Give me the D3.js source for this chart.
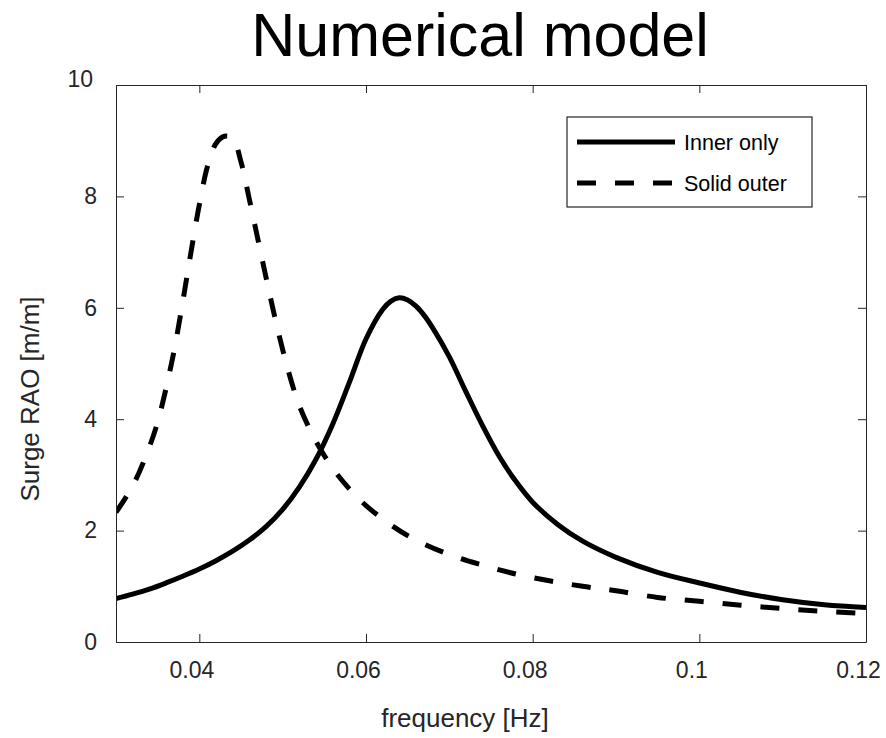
<!DOCTYPE html>
<html>
<head>
<meta charset="utf-8">
<script src="https://cdn.jsdelivr.net/npm/d3@7"></script>
<style>
  body { margin: 0; background: #fff; }
  svg { display: block; font-family: "Liberation Sans", Arial, Helvetica, sans-serif; }
</style>
</head>
<body>
<svg></svg>
<script>
// frequency [Hz] and surge RAO [m/m]
const freqInner = [0.030, 0.032, 0.034, 0.036, 0.038, 0.040, 0.042, 0.044, 0.046, 0.048, 0.050, 0.052, 0.054,
                   0.056, 0.058, 0.060, 0.062, 0.063, 0.064, 0.065, 0.066, 0.067, 0.068, 0.070, 0.072, 0.074,
                   0.076, 0.078, 0.080, 0.083, 0.086, 0.090, 0.095, 0.100, 0.105, 0.110, 0.115, 0.120];
const raoInner = [0.78, 0.86, 0.95, 1.06, 1.18, 1.31, 1.46, 1.63, 1.83, 2.07, 2.38, 2.78, 3.28,
                  3.91, 4.66, 5.44, 5.97, 6.12, 6.18, 6.14, 6.03, 5.86, 5.64, 5.12, 4.49, 3.88,
                  3.33, 2.88, 2.51, 2.11, 1.81, 1.52, 1.25, 1.06, 0.89, 0.76, 0.67, 0.62];

const freqOuter = [0.030, 0.032, 0.034, 0.035, 0.036, 0.037, 0.038, 0.039, 0.040, 0.041, 0.042, 0.043, 0.044,
                   0.045, 0.046, 0.047, 0.048, 0.049, 0.050, 0.051, 0.052, 0.054, 0.056, 0.058, 0.060, 0.063,
                   0.066, 0.070, 0.074, 0.078, 0.082, 0.086, 0.090, 0.095, 0.100, 0.105, 0.110, 0.115, 0.120];
const raoOuter = [2.33, 2.80, 3.50, 3.95, 4.55, 5.25, 6.10, 7.00, 7.85, 8.55, 8.95, 9.08, 9.05,
                  8.62, 7.95, 7.25, 6.55, 5.87, 5.25, 4.70, 4.24, 3.60, 3.12, 2.75, 2.45, 2.10,
                  1.83, 1.57, 1.38, 1.22, 1.10, 1.00, 0.92, 0.80, 0.73, 0.66, 0.60, 0.55, 0.51];

const xTicks = [0.04, 0.06, 0.08, 0.1, 0.12];
const yTicks = [0, 2, 4, 6, 8, 10];
const seriesNames = ["Inner only", "Solid outer"];

const width = 886;
const height = 738;
const plotLeft = 116, plotRight = 866, plotTop = 85, plotBottom = 642;
const axisColor = "#262626";

const svg = d3.select("svg").attr("width", width).attr("height", height);

const xScale = d3.scaleLinear().domain([0.03, 0.12]).range([plotLeft, plotRight]);
const yScale = d3.scaleLinear().domain([0, 10]).range([plotBottom, plotTop]);

const series = [
  { name: seriesNames[0], points: freqInner.map((f, i) => [f, raoInner[i]]), dash: null },
  { name: seriesNames[1], points: freqOuter.map((f, i) => [f, raoOuter[i]]), dash: "19,19" }
];

svg.append("clipPath").attr("id", "plot-clip")
   .append("rect")
   .attr("x", plotLeft).attr("y", plotTop)
   .attr("width", plotRight - plotLeft).attr("height", plotBottom - plotTop);

const line = d3.line()
               .x(d => xScale(d[0]))
               .y(d => yScale(d[1]))
               .curve(d3.curveCatmullRom.alpha(0.5));

svg.append("g").attr("clip-path", "url(#plot-clip)")
   .selectAll("path")
   .data(series)
   .enter()
   .append("path")
   .attr("d", d => line(d.points))
   .attr("fill", "none")
   .attr("stroke", "#000")
   .attr("stroke-width", 5)
   .attr("stroke-dasharray", d => d.dash);

// axes, MATLAB style: box on, ticks pointing inward on all four sides
const styleAxis = (g) => {
  g.select(".domain").attr("stroke", axisColor).attr("stroke-width", 1);
  g.selectAll(".tick line").attr("stroke", axisColor).attr("stroke-width", 1);
  g.selectAll(".tick text").attr("fill", axisColor).style("font-size", "23px");
};

const xAxis = d3.axisBottom(xScale).tickValues(xTicks).tickSize(-8).tickPadding(20).tickSizeOuter(0)
                .tickFormat(d3.format("~g"));
const yAxis = d3.axisLeft(yScale).tickValues(yTicks).tickSize(-8).tickPadding(19).tickSizeOuter(0)
                .tickFormat(d3.format("d"));

svg.append("g")
   .attr("transform", "translate(0," + plotBottom + ")")
   .call(xAxis)
   .call(styleAxis)
   .selectAll(".tick text")
   .attr("dx", -8);

svg.append("g")
   .attr("transform", "translate(" + plotLeft + ",0)")
   .call(yAxis)
   .call(styleAxis)
   .selectAll(".tick text")
   .filter(d => d === 10)
   .attr("dx", -4)
   .attr("dy", "0.06em");

svg.append("g")
   .attr("transform", "translate(0," + plotTop + ")")
   .call(d3.axisTop(xScale).tickValues(xTicks).tickSize(-8).tickSizeOuter(0).tickFormat(""))
   .call(styleAxis);

svg.append("g")
   .attr("transform", "translate(" + plotRight + ",0)")
   .call(d3.axisRight(yScale).tickValues(yTicks).tickSize(-8).tickSizeOuter(0).tickFormat(""))
   .call(styleAxis);

// title and axis labels
svg.append("text")
   .attr("x", 480).attr("y", 56)
   .attr("text-anchor", "middle")
   .style("font-size", "61px")
   .attr("fill", "#000")
   .text("Numerical model");

svg.append("text")
   .attr("x", 465).attr("y", 727)
   .attr("text-anchor", "middle")
   .style("font-size", "26px")
   .attr("fill", axisColor)
   .text("frequency [Hz]");

svg.append("text")
   .attr("transform", "translate(39,399) rotate(-90)")
   .attr("text-anchor", "middle")
   .style("font-size", "26px")
   .attr("fill", axisColor)
   .text("Surge RAO [m/m]");

// legend
const legend = svg.append("g");

legend.append("rect")
      .attr("x", 567).attr("y", 117)
      .attr("width", 245).attr("height", 90)
      .attr("fill", "#fff")
      .attr("stroke", axisColor)
      .attr("stroke-width", 1.2);

const rows = legend.selectAll(".row")
                   .data(series)
                   .enter()
                   .append("g")
                   .attr("class", "row")
                   .attr("transform", (d, i) => "translate(0," + (142 + i * 41) + ")");

rows.append("line")
    .attr("x1", 577).attr("x2", 675)
    .attr("y1", 0).attr("y2", 0)
    .attr("stroke", "#000")
    .attr("stroke-width", 5)
    .attr("stroke-dasharray", d => d.dash);

rows.append("text")
    .attr("x", 684).attr("y", 0)
    .attr("dy", "0.35em")
    .style("font-size", "21.5px")
    .attr("fill", "#000")
    .text(d => d.name);
</script>
</body>
</html>
